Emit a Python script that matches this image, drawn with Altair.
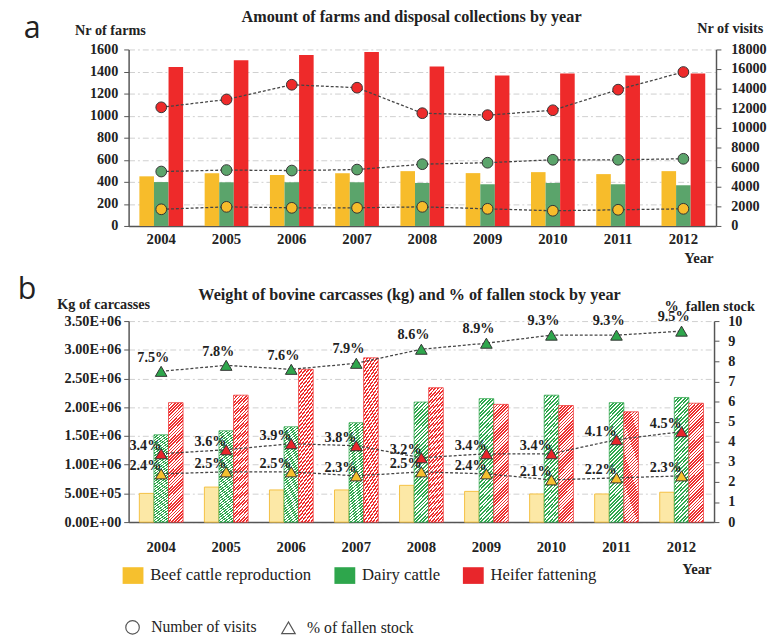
import altair as alt
import pandas as pd

years = ["2004", "2005", "2006", "2007", "2008", "2009", "2010", "2011", "2012"]
cats = ["Beef cattle reproduction", "Dairy cattle", "Heifer fattening"]
kinds = ["Number of visits", "% of fallen stock"]

# Panel a: number of farms (bars) and number of visits (circles)
farms_beef = [450, 478, 462, 478, 497, 479, 488, 470, 497]
farms_dairy = [398, 396, 396, 396, 390, 378, 390, 378, 369]
farms_heifer = [1440, 1502, 1549, 1576, 1445, 1365, 1382, 1365, 1382]
visits_beef = [1700, 1950, 1850, 1850, 1950, 1750, 1550, 1650, 1750]
visits_dairy = [5550, 5700, 5650, 5750, 6300, 6450, 6750, 6750, 6850]
visits_heifer = [12100, 12900, 14400, 14100, 11500, 11300, 11800, 13900, 15700]

# Panel b: kg of carcasses (bars) and % of fallen stock (triangles)
kg_beef = [5.0e5, 6.1e5, 5.6e5, 5.6e5, 6.4e5, 5.35e5, 4.9e5, 4.9e5, 5.2e5]
kg_dairy = [1.52e6, 1.59e6, 1.66e6, 1.73e6, 2.09e6, 2.15e6, 2.21e6, 2.08e6, 2.17e6]
kg_heifer = [2.08e6, 2.21e6, 2.66e6, 2.86e6, 2.34e6, 2.05e6, 2.03e6, 1.92e6, 2.07e6]
pct_beef = [2.4, 2.5, 2.5, 2.3, 2.5, 2.4, 2.1, 2.2, 2.3]
pct_dairy = [7.5, 7.8, 7.6, 7.9, 8.6, 8.9, 9.3, 9.3, 9.5]
pct_heifer = [3.4, 3.6, 3.9, 3.8, 3.2, 3.4, 3.4, 4.1, 4.5]

title_a = "Amount of farms and disposal collections by year"
title_b = "Weight of bovine carcasses (kg) and % of fallen stock by year"


def long(name, series):
    rows = []
    for cat, vals in zip(cats, series):
        for y, v in zip(years, vals):
            rows.append({"year": y, "cat": cat, name: v})
    return pd.DataFrame(rows)


farms_df = long("farms", [farms_beef, farms_dairy, farms_heifer])
visits_df = long("visits", [visits_beef, visits_dairy, visits_heifer])
kg_df = long("kg", [kg_beef, kg_dairy, kg_heifer])
pct_df = long("pct", [pct_beef, pct_dairy, pct_heifer])
pct_df["kind"] = kinds[1]

SERIF = "Liberation Serif"
TXT = "#222222"
AX = "#555555"
bar_colors = ["#F7BC2B", "#5BA46B", "#EE2A2A"]
pt_colors = ["#F6C02E", "#2EA64C", "#E8262B"]
light_beef = "#FCE8A6"
hatch_green = "#2EA84D"
hatch_red = "#EE2E2E"


def hatch(color, n, duty=0.5):
    stops = []
    for i in range(n):
        a, b, c = i / n, (i + duty) / n, (i + 1) / n
        stops += [
            {"offset": a, "color": color},
            {"offset": b, "color": color},
            {"offset": b, "color": "#ffffff"},
            {"offset": c, "color": "#ffffff"},
        ]
    return {"gradient": "linear", "x1": 0, "y1": 0, "x2": 0.137, "y2": 1.107, "stops": stops}


def x_enc(width, lab_pad, title_y):
    return alt.X(
        "year:N",
        scale=alt.Scale(paddingInner=0.33, paddingOuter=0.165),
        axis=alt.Axis(
            title="Year", labelAngle=0, labelFont=SERIF, labelFontWeight="bold",
            labelFontSize=15, labelColor=TXT, labelPadding=lab_pad, ticks=False,
            domainColor=AX, domainWidth=1.5, titleFont=SERIF, titleFontWeight="bold",
            titleFontSize=15, titleColor=TXT, titleAlign="right", titleBaseline="middle",
            titleX=width - 3, titleY=title_y,
        ),
    )


off_enc = alt.XOffset("cat:N", scale=alt.Scale(domain=cats, paddingInner=0, paddingOuter=0))


def left_axis(title, tx, ty, pad, values, fmt=None, expr=None, grid=True):
    kw = dict(
        title=title, titleAngle=0, titleX=tx, titleY=ty, titleAlign="center",
        titleBaseline="middle", titleFont=SERIF, titleFontWeight="bold", titleFontSize=14.5,
        titleColor=TXT, labelFont=SERIF, labelFontWeight="bold", labelFontSize=14.5,
        labelColor=TXT, labelPadding=pad, tickSize=5, tickColor=AX, domainColor=AX,
        domainWidth=1.5, values=values, grid=grid, gridColor="#cfcfcf",
        gridDash=[6, 3, 2, 3], gridWidth=1,
    )
    if fmt:
        kw["format"] = fmt
    if expr:
        kw["labelExpr"] = expr
    return alt.Axis(**kw)


def right_axis(title, tx, ty, pad, values):
    return alt.Axis(
        orient="right", title=title, titleAngle=0, titleX=tx, titleY=ty, titleAlign="center",
        titleBaseline="middle", titleFont=SERIF, titleFontWeight="bold", titleFontSize=14.5,
        titleColor=TXT, labelFont=SERIF, labelFontWeight="bold", labelFontSize=14.5,
        labelColor=TXT, labelPadding=pad, tickSize=5, tickColor=AX, domainColor=AX,
        domainWidth=1.5, values=values, format="d", grid=False,
    )


def label_layer(letter, title, lx, ly, tx, ty):
    letter_c = alt.Chart(pd.DataFrame({"t": [letter]})).mark_text(
        font="Open Sans", fontSize=31, align="left", baseline="alphabetic", color="#222").encode(
        x=alt.value(lx), y=alt.value(ly), text="t:N")
    title_c = alt.Chart(pd.DataFrame({"t": [title]})).mark_text(
        font=SERIF, fontSize=16.5, fontWeight="bold", align="center", baseline="middle",
        color=TXT).encode(x=alt.value(tx), y=alt.value(ty), text="t:N")
    return alt.layer(letter_c, title_c)


# ---------- panel a ----------
WA, HA = 599, 180
xa = x_enc(WA, 6, 32)
bars_a = alt.Chart(farms_df).mark_bar().encode(
    x=xa, xOffset=off_enc,
    y=alt.Y("farms:Q", scale=alt.Scale(domain=[0, 1600]),
            axis=left_axis("Nr of farms", -19, -19, 6, list(range(0, 1601, 200)), fmt="d")),
    color=alt.Color("cat:N", scale=alt.Scale(domain=cats, range=bar_colors), legend=None),
)
ya2 = alt.Y("visits:Q", scale=alt.Scale(domain=[0, 18000]),
            axis=right_axis("Nr of visits", 14, -21, 10, list(range(0, 18001, 2000))))
lines_a = alt.Chart(visits_df).mark_line(color="#444", strokeDash=[3, 2], strokeWidth=1.3).encode(
    x=xa, y=ya2, detail="cat:N")
pts_a = alt.Chart(visits_df).mark_point(filled=True, shape="circle", size=120, stroke="#333",
                                        strokeWidth=1, opacity=1).encode(
    x=xa, y=ya2,
    color=alt.Color("cat:N", scale=alt.Scale(domain=cats, range=pt_colors), legend=None))

panel_a = alt.layer(
    bars_a, alt.layer(lines_a, pts_a),
    label_layer("a", title_a, -107, -12, WA / 2 - 11, -33),
).resolve_scale(y="independent").properties(width=WA, height=HA)

# ---------- panel b ----------
WB, HB = 597, 205
xb = x_enc(WB, 18, 47)
yb = alt.Y("kg:Q", scale=alt.Scale(domain=[0, 3.5e6]),
           axis=left_axis("Kg of carcasses", -26, -17, 3, [i * 5e5 for i in range(8)],
                          expr="replace(upper(format(datum.value, '.2e')), '+', '+0')"))


def kg_layer(cat, **mk):
    return alt.Chart(kg_df).transform_filter(alt.datum.cat == cat).mark_bar(**mk).encode(
        x=xb, xOffset=off_enc, y=yb)


bars_b = alt.layer(
    kg_layer(cats[0], fill=light_beef, stroke="#F4C042", strokeWidth=1),
    kg_layer(cats[1], fill=hatch(hatch_green, 38), stroke="#3AAA55", strokeWidth=0.8),
    kg_layer(cats[2], fill=hatch(hatch_red, 42), stroke="#EE3A3A", strokeWidth=0.8),
)
yb2 = alt.Y("pct:Q", scale=alt.Scale(domain=[0, 10]),
            axis=right_axis("%\u00a0 fallen stock", -5, -15, 9, list(range(0, 11))))
lines_b = alt.Chart(pct_df).mark_line(color="#444", strokeDash=[3, 2], strokeWidth=1.3).encode(
    x=xb, y=yb2, detail="cat:N")
tri_b = alt.Chart(pct_df).mark_point(filled=True, size=140, stroke="#333", strokeWidth=1,
                                     opacity=1).encode(
    x=xb, y=yb2,
    color=alt.Color("cat:N", scale=alt.Scale(domain=cats, range=pt_colors),
                    legend=alt.Legend(orient="none", legendX=-4, legendY=251,
                                      direction="horizontal", title=None,
                                      symbolType="M-1.25,-1H1.25V1H-1.25Z",
                                      symbolSize=289, symbolStrokeWidth=0, labelFont=SERIF,
                                      labelFontSize=17, labelColor=TXT, columnPadding=22,
                                      labelOffset=9, labelLimit=400, symbolOpacity=1)),
    shape=alt.Shape("kind:N", scale=alt.Scale(domain=kinds, range=["circle", "triangle-up"]),
                    legend=alt.Legend(orient="none", legendX=-4, legendY=304,
                                      direction="horizontal", title=None, symbolSize=190,
                                      symbolFillColor="white", symbolStrokeColor="#555",
                                      symbolStrokeWidth=1.2, labelFont=SERIF, labelFontSize=16,
                                      labelColor=TXT, columnPadding=22, labelOffset=11,
                                      labelLimit=400)),
)
pct_lab = "format(datum.pct, '.1f') + '%'"
txt_green = alt.Chart(pct_df).transform_filter(alt.datum.cat == cats[1]).transform_calculate(
    lab=pct_lab).mark_text(font=SERIF, fontWeight="bold", fontSize=14.5, color=TXT,
                           dx=-8, dy=-14).encode(x=xb, y=yb2, text="lab:N")
txt_other = alt.Chart(pct_df).transform_filter(alt.datum.cat != cats[1]).transform_calculate(
    lab=pct_lab).mark_text(font=SERIF, fontWeight="bold", fontSize=14.5, color=TXT,
                           dx=-16, dy=-8).encode(x=xb, y=yb2, text="lab:N")

panel_b = alt.layer(
    bars_b, alt.layer(lines_b, tri_b, txt_green, txt_other),
    label_layer("b", title_b, -113, -23, WB / 2 - 12, -27),
).resolve_scale(y="independent").properties(width=WB, height=HB)

chart = alt.concat(panel_a, panel_b, columns=1, spacing=9).resolve_scale(
    color="independent", shape="independent").configure_view(stroke=None).properties(
    align="none", padding={"left": 10, "top": -5, "right": 0, "bottom": 0})

chart.save("out.html", embed_options={"renderer": "svg", "actions": False})
